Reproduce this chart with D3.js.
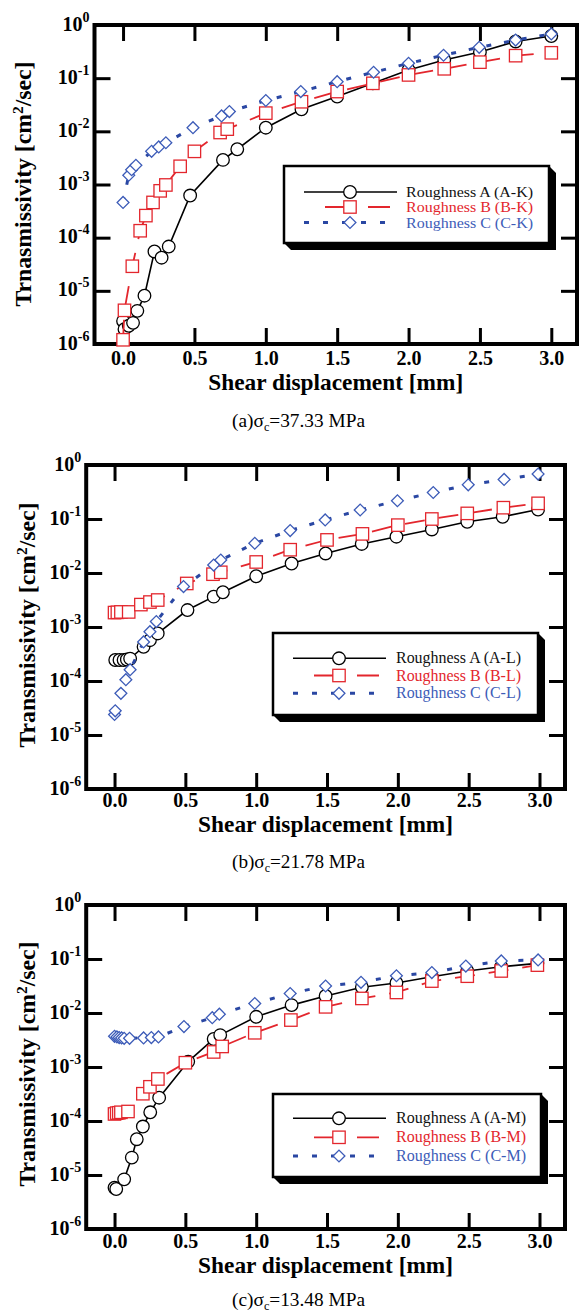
<!DOCTYPE html>
<html>
<head>
<meta charset="utf-8">
<script src="https://cdn.jsdelivr.net/npm/d3@7"></script>
<style>
  body { margin: 0; background: #fff; }
  svg { display: block; }
  text { font-family: "Liberation Serif", "Times New Roman", serif; }
</style>
</head>
<body>
<svg id="chart" width="579" height="1315"></svg>
<script>
// ---- axis ticks ----
const xTicks = [0.0, 0.5, 1.0, 1.5, 2.0, 2.5, 3.0];
const yTickExps = [0, -1, -2, -3, -4, -5, -6];

// ---- (a) sigma_c = 37.33 MPa ----
const dispA_K = [0.0, 0.01, 0.04, 0.07, 0.10, 0.15, 0.22, 0.27, 0.32, 0.47, 0.70, 0.80, 1.0, 1.25, 1.5, 1.75, 2.0, 2.25, 2.5, 2.75, 3.0];
const transA_K = [2.7e-6, 1.9e-6, 2.2e-6, 2.5e-6, 4.2e-6, 8.1e-6, 5.5e-5, 4.2e-5, 6.8e-5, 6.2e-4, 2.9e-3, 4.6e-3, 1.17e-2, 2.6e-2, 4.5e-2, 8.0e-2, 0.143, 0.22, 0.31, 0.49, 0.62];
const dispB_K = [0.0, 0.01, 0.065, 0.12, 0.16, 0.21, 0.26, 0.30, 0.40, 0.50, 0.68, 0.73, 1.0, 1.25, 1.5, 1.75, 2.0, 2.25, 2.5, 2.75, 3.0];
const transB_K = [1.2e-6, 4.3e-6, 2.9e-5, 1.35e-4, 2.6e-4, 4.6e-4, 7.6e-4, 9.8e-4, 2.2e-3, 4.2e-3, 9.5e-3, 1.1e-2, 2.2e-2, 3.6e-2, 5.6e-2, 8.0e-2, 0.115, 0.15, 0.20, 0.265, 0.30];
const dispC_K = [0.0, 0.04, 0.06, 0.09, 0.20, 0.25, 0.30, 0.49, 0.69, 0.745, 1.0, 1.245, 1.5, 1.755, 2.0, 2.245, 2.495, 2.75, 3.0];
const transC_K = [4.6e-4, 1.5e-3, 1.9e-3, 2.3e-3, 4.2e-3, 5.1e-3, 6.1e-3, 1.17e-2, 1.95e-2, 2.35e-2, 3.8e-2, 5.6e-2, 8.6e-2, 0.129, 0.19, 0.27, 0.38, 0.52, 0.68];

// ---- (b) sigma_c = 21.78 MPa ----
const dispA_L = [0.005, 0.035, 0.064, 0.087, 0.11, 0.205, 0.25, 0.305, 0.515, 0.70, 0.765, 1.0, 1.25, 1.49, 1.745, 1.99, 2.24, 2.49, 2.74, 2.99];
const transA_L = [2.45e-4, 2.45e-4, 2.45e-4, 2.5e-4, 2.6e-4, 4.3e-4, 5.7e-4, 7.6e-4, 2.06e-3, 3.65e-3, 4.4e-3, 8.7e-3, 1.5e-2, 2.3e-2, 3.45e-2, 4.7e-2, 6.4e-2, 8.9e-2, 0.11, 0.15];
const dispB_L = [0.0, 0.02, 0.045, 0.10, 0.186, 0.25, 0.305, 0.51, 0.695, 0.75, 1.0, 1.24, 1.5, 1.75, 2.0, 2.24, 2.49, 2.745, 2.99];
const transB_L = [1.85e-3, 1.87e-3, 1.9e-3, 1.9e-3, 2.6e-3, 2.9e-3, 3.16e-3, 6.4e-3, 9.5e-3, 1.03e-2, 1.6e-2, 2.7e-2, 4.1e-2, 5.3e-2, 7.7e-2, 0.10, 0.127, 0.162, 0.195];
const dispC_L = [0.0, 0.005, 0.045, 0.08, 0.11, 0.205, 0.25, 0.295, 0.487, 0.70, 0.75, 0.99, 1.24, 1.487, 1.734, 1.997, 2.25, 2.497, 2.75, 2.99];
const transC_L = [2.4e-5, 2.8e-5, 5.9e-5, 1.06e-4, 1.62e-4, 5.3e-4, 8.2e-4, 1.26e-3, 5.6e-3, 1.4e-2, 1.74e-2, 3.55e-2, 6.1e-2, 0.096, 0.147, 0.218, 0.31, 0.43, 0.54, 0.68];

// ---- (c) sigma_c = 13.48 MPa ----
const dispA_M = [0.0, 0.012, 0.068, 0.122, 0.157, 0.20, 0.252, 0.315, 0.52, 0.70, 0.746, 1.0, 1.25, 1.49, 1.746, 1.99, 2.24, 2.49, 2.73, 2.985];
const transA_M = [5.8e-6, 5.5e-6, 8.3e-6, 2.1e-5, 4.6e-5, 7.9e-5, 1.45e-4, 2.7e-4, 1.26e-3, 3.3e-3, 3.9e-3, 8.5e-3, 1.4e-2, 2.07e-2, 3.0e-2, 3.6e-2, 4.7e-2, 6.0e-2, 7.2e-2, 8.3e-2];
const dispB_M = [0.0, 0.015, 0.03, 0.045, 0.095, 0.20, 0.25, 0.306, 0.50, 0.70, 0.76, 0.99, 1.245, 1.49, 1.746, 1.99, 2.24, 2.49, 2.73, 2.985];
const transB_M = [1.35e-4, 1.4e-4, 1.42e-4, 1.45e-4, 1.5e-4, 3.2e-4, 4.3e-4, 6.0e-4, 1.2e-3, 1.9e-3, 2.4e-3, 4.3e-3, 7.4e-3, 1.3e-2, 1.86e-2, 2.4e-2, 3.9e-2, 4.8e-2, 6.0e-2, 7.7e-2];
const dispC_M = [0.0, 0.017, 0.033, 0.05, 0.068, 0.106, 0.205, 0.26, 0.31, 0.49, 0.69, 0.74, 0.99, 1.24, 1.49, 1.74, 1.99, 2.24, 2.48, 2.73, 2.99];
const transC_M = [3.7e-3, 3.6e-3, 3.5e-3, 3.45e-3, 3.4e-3, 3.4e-3, 3.45e-3, 3.5e-3, 3.6e-3, 5.6e-3, 8.2e-3, 9.5e-3, 1.5e-2, 2.3e-2, 3.16e-2, 3.7e-2, 4.9e-2, 5.6e-2, 7.4e-2, 9.2e-2, 9.6e-2];

// ---- labels ----
const seriesNames = ["Roughness A", "Roughness B", "Roughness C"];
const caseCodes = [["A-K", "B-K", "C-K"], ["A-L", "B-L", "C-L"], ["A-M", "B-M", "C-M"]];
const panelLetters = ["a", "b", "c"];
const stressLabels = ["37.33", "21.78", "13.48"];
const yTitleWords = ["Trnasmissivity", "Transmissivity", "Transmissivity"];

// ---- styles ----
const RED = "#e3262d";
const BLUE_LINE = "#2a47a3";
const BLUE_MARK = "#3d5cb8";
const seriesStyle = [
  { stroke: "#000", width: 1.6, dash: null, mark: "circle", markStroke: "#000", text: "#111" },
  { stroke: RED, width: 1.8, dash: "20,14", mark: "square", markStroke: RED, text: RED },
  { stroke: BLUE_LINE, width: 3, dash: "5,13", mark: "diamond", markStroke: BLUE_MARK, text: BLUE_MARK }
];

const xDomain = [-0.2, 3.18];

const layouts = [
  { box: { x0: 94.5, x1: 577, y0: 25, y1: 344 }, xLab: 365, xTitle: 389.5, yTitleX: 31, yTitleY: 184, cap: 427,
    leg: { x: 284, y: 166, w: 265, h: 77, rows: [192, 207, 222.5], lx0: 304, lx1: 397, mx: 350, tx: 406, tw: 127, fs: 15.5 } },
  { box: { x0: 86.2, x1: 565, y0: 465, y1: 789 }, xLab: 806.7, xTitle: 831.7, yTitleX: 35, yTitleY: 625, cap: 868,
    leg: { x: 273, y: 633, w: 265, h: 82, rows: [658.3, 675.5, 693.3], lx0: 293, lx1: 386, mx: 339, tx: 396, tw: 125, fs: 16 } },
  { box: { x0: 86.2, x1: 565, y0: 905, y1: 1229 }, xLab: 1247.7, xTitle: 1272.7, yTitleX: 35, yTitleY: 1064, cap: 1305.7,
    leg: { x: 273, y: 1094, w: 268, h: 83, rows: [1118.3, 1137.3, 1156], lx0: 293, lx1: 386, mx: 339, tx: 396, tw: 130, fs: 16 } }
];

const panelData = [
  [[dispA_K, transA_K], [dispB_K, transB_K], [dispC_K, transC_K]],
  [[dispA_L, transA_L], [dispB_L, transB_L], [dispC_L, transC_L]],
  [[dispA_M, transA_M], [dispB_M, transB_M], [dispC_M, transC_M]]
];

const svg = d3.select("#chart");
svg.append("rect").attr("width", 579).attr("height", 1315).attr("fill", "#fff");

function drawMarker(sel, kind, color) {
  if (kind === "circle") {
    sel.append("circle").attr("r", 6.3).attr("fill", "#fff").attr("stroke", color).attr("stroke-width", 1.3);
  } else if (kind === "square") {
    sel.append("rect").attr("x", -6.2).attr("y", -6.2).attr("width", 12.4).attr("height", 12.4)
      .attr("fill", "#fff").attr("stroke", color).attr("stroke-width", 1.3);
  } else {
    sel.append("path").attr("d", d3.symbol(d3.symbolSquare, 70)()).attr("transform", "rotate(45)")
      .attr("fill", "#fff").attr("stroke", color).attr("stroke-width", 1.3);
  }
}

function drawPanel(i) {
  const L = layouts[i];
  const { x0, x1, y0, y1 } = L.box;
  const g = svg.append("g");
  const x = d3.scaleLinear().domain(xDomain).range([x0, x1]);
  const y = d3.scaleLog().domain([1e-6, 1]).range([y1, y0]);
  const tickLen = 16, tickW = 3;

  const styleAxis = a => {
    a.select(".domain").remove();
    a.attr("font-family", "Liberation Serif").attr("font-weight", "bold").attr("font-size", 20);
    a.selectAll(".tick line").attr("stroke", "#000").attr("stroke-width", tickW);
  };

  // bottom axis with labels
  const bottom = g.append("g").attr("transform", `translate(0,${y1})`)
    .call(d3.axisBottom(x).tickValues(xTicks).tickSize(-tickLen).tickFormat(d3.format(".1f")));
  styleAxis(bottom);
  bottom.selectAll(".tick text").attr("y", L.xLab - y1).attr("dy", null).attr("fill", "#000");

  // top axis, ticks only
  const top = g.append("g").attr("transform", `translate(0,${y0})`)
    .call(d3.axisTop(x).tickValues(xTicks).tickSize(-tickLen).tickFormat(""));
  styleAxis(top);

  // left axis with 10^n labels
  const yVals = yTickExps.map(e => Math.pow(10, e));
  const left = g.append("g").attr("transform", `translate(${x0},0)`)
    .call(d3.axisLeft(y).tickValues(yVals).tickSize(-tickLen).tickPadding(5).tickFormat(""));
  styleAxis(left);
  left.selectAll(".tick text").each(function (d, k) {
    const t = d3.select(this).attr("dy", null).attr("y", 5).attr("fill", "#000");
    t.append("tspan").text("10");
    t.append("tspan").attr("dy", -9).attr("font-size", 14).text(String(yTickExps[k]));
  });

  // right axis, ticks only
  const right = g.append("g").attr("transform", `translate(${x1},0)`)
    .call(d3.axisRight(y).tickValues(yVals).tickSize(-tickLen).tickFormat(""));
  styleAxis(right);

  // frame
  g.append("rect").attr("x", x0).attr("y", y0).attr("width", x1 - x0).attr("height", y1 - y0)
    .attr("fill", "none").attr("stroke", "#000").attr("stroke-width", 4);

  // series
  const line = d3.line().x(d => x(d[0])).y(d => y(d[1]));
  panelData[i].forEach((pair, s) => {
    const st = seriesStyle[s];
    const pts = pair[0].map((v, k) => [v, pair[1][k]]);
    g.append("path").datum(pts).attr("d", line).attr("fill", "none")
      .attr("stroke", st.stroke).attr("stroke-width", st.width)
      .attr("stroke-dasharray", st.dash);
    g.selectAll(null).data(pts).join("g")
      .attr("transform", d => `translate(${x(d[0])},${y(d[1])})`)
      .each(function () { drawMarker(d3.select(this), st.mark, st.markStroke); });
  });

  // axis titles
  g.append("text").attr("x", (x0 + x1) / 2).attr("y", L.xTitle).attr("text-anchor", "middle")
    .attr("font-weight", "bold").attr("font-size", 23).attr("textLength", 255).attr("lengthAdjust", "spacingAndGlyphs")
    .text("Shear displacement [mm]");

  const yt = g.append("text").attr("transform", `translate(${L.yTitleX},${L.yTitleY}) rotate(-90)`)
    .attr("text-anchor", "middle").attr("font-weight", "bold").attr("font-size", 23)
    .attr("textLength", 245).attr("lengthAdjust", "spacingAndGlyphs");
  yt.append("tspan").text(yTitleWords[i] + " [cm");
  yt.append("tspan").attr("dy", -8).attr("font-size", 15).text("2");
  yt.append("tspan").attr("dy", 8).text("/sec]");

  // caption
  const cap = g.append("text").attr("x", 298.5).attr("y", L.cap).attr("text-anchor", "middle")
    .attr("font-size", 19).attr("textLength", 133).attr("lengthAdjust", "spacingAndGlyphs");
  cap.append("tspan").text(`(${panelLetters[i]})σ`);
  cap.append("tspan").attr("dy", 4).attr("font-size", 12).text("c");
  cap.append("tspan").attr("dy", -4).text(`=${stressLabels[i]} MPa`);

  // legend
  const lg = L.leg, sh = 7;
  g.append("polygon").attr("fill", "#000").attr("points", [
    [lg.x + lg.w, lg.y], [lg.x + lg.w + sh, lg.y + sh], [lg.x + lg.w + sh, lg.y + lg.h + sh],
    [lg.x + sh, lg.y + lg.h + sh], [lg.x, lg.y + lg.h]
  ].map(p => p.join(",")).join(" "));
  g.append("rect").attr("x", lg.x).attr("y", lg.y).attr("width", lg.w).attr("height", lg.h)
    .attr("fill", "#fff").attr("stroke", "#000").attr("stroke-width", 2.5);

  seriesStyle.forEach((st, s) => {
    const ry = lg.rows[s];
    const lp = g.append("line").attr("x1", lg.lx0).attr("x2", lg.lx1).attr("y1", ry).attr("y2", ry)
      .attr("stroke", st.stroke).attr("stroke-width", st.width);
    if (s === 1) lp.attr("stroke-dasharray", "22,21").attr("stroke-dashoffset", 22);
    if (s === 2) lp.attr("stroke-dasharray", "5,14");
    const m = g.append("g").attr("transform", `translate(${lg.mx},${ry})`);
    drawMarker(m, st.mark, st.markStroke);
    g.append("text").attr("x", lg.tx).attr("y", ry + 5).attr("font-size", lg.fs).attr("fill", st.text)
      .attr("textLength", lg.tw).attr("lengthAdjust", "spacingAndGlyphs")
      .text(`${seriesNames[s]} (${caseCodes[i][s]})`);
  });
}

[0, 1, 2].forEach(drawPanel);
</script>
</body>
</html>
